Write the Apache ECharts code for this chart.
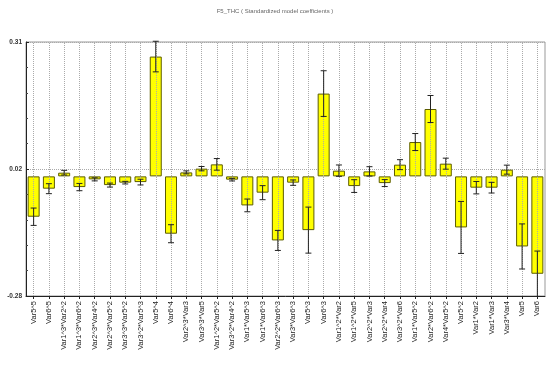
<!DOCTYPE html>
<html>
<head>
<meta charset="utf-8">
<script src="https://cdn.jsdelivr.net/npm/echarts@6/dist/echarts.min.js"></script>
<style>html,body{margin:0;padding:0;background:#fff;}#chart{width:550px;height:366px;}</style>
</head>
<body>
<div id="chart"></div>
<script>
const chartTitle = 'F5_THC ( Standardized model coefficients )';
const categories = [
  'Var5^5','Var6^5','Var1^3*Var2^2','Var1^3*Var6^2','Var2^3*Var4^2','Var2^3*Var5^2',
  'Var3^3*Var5^2','Var3^2*Var5^3','Var5^4','Var6^4','Var2^3*Var3','Var3^3*Var5',
  'Var1^2*Var5^2','Var3^2*Var4^2','Var1*Var5^3','Var1*Var6^3','Var2^2*Var6^3','Var3*Var6^3',
  'Var5^3','Var6^3','Var1^2*Var2','Var1^2*Var5','Var2^2*Var3','Var2^2*Var4',
  'Var3^2*Var6','Var1*Var5^2','Var2*Var6^2','Var4*Var5^2','Var5^2','Var1*Var2',
  'Var1*Var3','Var3*Var4','Var5','Var6'
];
const coefValues = [
  -0.0931,-0.0284,0.0085,-0.0247,-0.0069,-0.0201,
  -0.0145,-0.0132,0.2764,-0.1323,0.0092,0.0178,
  0.0277,-0.0076,-0.0670,-0.0376,-0.1478,-0.0145,
  -0.1240,0.1910,0.0132,-0.0224,0.0115,-0.0155,
  0.0270,0.0792,0.1554,0.0293,-0.1178,-0.0261,
  -0.0261,0.0155,-0.1617,-0.2247
];
const errorValues = [
  0.0200,0.0115,0.0054,0.0084,0.0035,0.0046,
  0.0030,0.0066,0.0353,0.0208,0.0035,0.0050,
  0.0134,0.0030,0.0147,0.0162,0.0231,0.0062,
  0.0531,0.0527,0.0131,0.0147,0.0108,0.0080,
  0.0115,0.0196,0.0312,0.0127,0.0600,0.0143,
  0.0123,0.0104,0.0520,0.0524
];
const yTickLabels = ['-0.28','0.02','0.31'];
const yMin = -0.276, yMax = 0.31, yInterval = 0.293;

const chart = echarts.init(document.getElementById('chart'), null, {renderer:'canvas'});
const errData = categories.map((c,i)=>[i, coefValues[i], errorValues[i]]);

chart.setOption({
  animation:false,
  backgroundColor:'#fff',
  title:{text:chartTitle,left:'center',top:3,textStyle:{fontSize:6,color:'#666',fontWeight:'normal',fontFamily:'Liberation Sans'}},
  grid:{left:26,right:5,top:42,bottom:70,show:true,borderColor:'#999',borderWidth:1},
  xAxis:{
    type:'category',data:categories,
    axisLine:{show:true,onZero:false,lineStyle:{color:'#222',width:1}},
    axisTick:{show:true,alignWithLabel:true,length:3,lineStyle:{color:'#222'}},
    axisLabel:{rotate:90,fontSize:7.5,color:'#222',margin:5,fontFamily:'Liberation Sans',interval:0},
    splitLine:{show:false}
  },
  yAxis:{
    type:'value',min:yMin,max:yMax,interval:yInterval,
    axisLine:{show:true,lineStyle:{color:'#222',width:1}},
    axisTick:{show:true,inside:true,length:3,lineStyle:{color:'#222'}},
    minorTick:{show:true,splitNumber:5,length:2,lineStyle:{color:'#444'}},
    axisLabel:{fontSize:6.5,fontWeight:'bold',color:'#333',margin:4,fontFamily:'Liberation Sans',
      formatter:(v,i)=>yTickLabels[i]},
    splitLine:{show:true,lineStyle:{color:'#aaa',type:'dotted',width:1}}
  },
  series:[
    {
      type:'bar',data:coefValues,barWidth:12,
      itemStyle:{color:'#ffff00',borderColor:'#5c5c00',borderWidth:1},
      z:2,
      markLine:{
        silent:true,symbol:['none','none'],label:{show:false},
        lineStyle:{color:'#aaa',type:'dotted',width:1},
        data:categories.map(c=>({xAxis:c}))
      }
    },
    {
      type:'custom',data:errData,z:5,
      renderItem:function(params,api){
        const i=api.value(0), v=api.value(1), e=api.value(2);
        const hi=api.coord([i,v+e]), lo=api.coord([i,v-e]);
        const s={stroke:'#222',lineWidth:1};
        const h=3;
        return {type:'group',children:[
          {type:'line',shape:{x1:hi[0],y1:hi[1],x2:lo[0],y2:lo[1]},style:s},
          {type:'line',shape:{x1:hi[0]-h,y1:hi[1],x2:hi[0]+h,y2:hi[1]},style:s},
          {type:'line',shape:{x1:lo[0]-h,y1:lo[1],x2:lo[0]+h,y2:lo[1]},style:s}
        ]};
      }
    }
  ]
});
</script>
</body>
</html>
